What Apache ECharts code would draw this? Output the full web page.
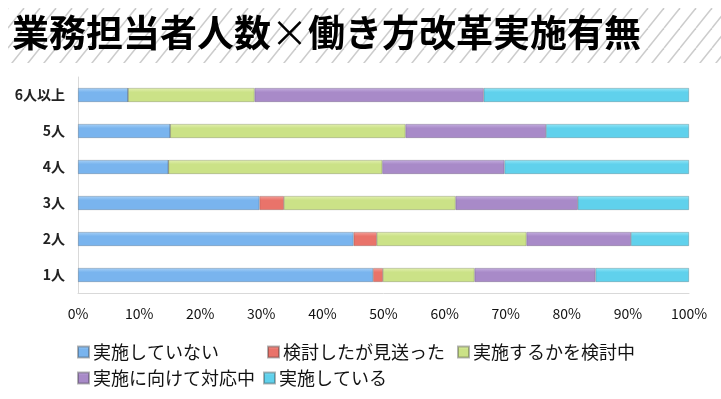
<!DOCTYPE html>
<html>
<head>
<meta charset="utf-8">
<script src="https://cdn.jsdelivr.net/npm/echarts@6/dist/echarts.min.js"></script>
<style>
  html, body { margin: 0; padding: 0; background: #fff; }
  #chart { width: 721px; height: 399px; }
</style>
</head>
<body>
<div id="chart"></div>
<script>
// カテゴリ（下から上）
const categories = ["1人", "2人", "3人", "4人", "5人", "6人以上"];
const xTicks = [0, 10, 20, 30, 40, 50, 60, 70, 80, 90, 100];

const notDone = [48.3, 45.1, 29.7, 14.8, 15.1, 8.2];      // 実施していない
const skipped = [1.6, 3.8, 4.0, 0, 0, 0];                 // 検討したが見送った
const considering = [15.0, 24.5, 28.1, 35.0, 38.5, 20.7]; // 実施するかを検討中
const preparing = [19.8, 17.1, 20.0, 20.0, 23.0, 37.5];   // 実施に向けて対応中
const done = [15.3, 9.5, 18.2, 30.2, 23.4, 33.6];         // 実施している

const seriesNames = ["実施していない", "検討したが見送った", "実施するかを検討中", "実施に向けて対応中", "実施している"];
const seriesData = [notDone, skipped, considering, preparing, done];
const colors = [
  ["#a6d0f7", "#79b4ee"],
  ["#f4a19a", "#e9736a"],
  ["#e2f0b0", "#cbe287"],
  ["#c4aee0", "#a88ac8"],
  ["#93e6f7", "#60d1ec"],
];

// タイトル背景の斜線パターン
function makeHatch() {
  const c = document.createElement("canvas");
  c.width = 16; c.height = 20;
  const ctx = c.getContext("2d");
  ctx.strokeStyle = "#cccccc";
  ctx.lineWidth = 1.5;
  for (const dx of [-16, 0, 16]) {
    ctx.beginPath();
    ctx.moveTo(dx, 20);
    ctx.lineTo(dx + 16, 0);
    ctx.stroke();
  }
  return c;
}

const chart = echarts.init(document.getElementById("chart"));

const legendPos = [
  { left: 72, top: 338 },
  { left: 262, top: 338 },
  { left: 452, top: 338 },
  { left: 72, top: 364 },
  { left: 258, top: 364 },
];

const option = {
  backgroundColor: "#fff",
  animation: false,
  graphic: [
    {
      type: "rect",
      left: 8, top: 8,
      shape: { width: 713, height: 55 },
      style: { fill: { image: makeHatch(), repeat: "repeat" } },
      silent: true,
    },
    {
      type: "text",
      left: 12, top: 14,
      style: {
        text: "{b|業務担当者人数}{x|×}{b|働き方改革実施有無}",
        rich: {
          b: { fill: "#000", fontSize: 37, fontWeight: "bold", fontFamily: "Noto Sans CJK JP" },
          x: { fill: "#000", fontSize: 37, fontWeight: "normal", fontFamily: "Noto Sans CJK JP" },
        },
      },
    },
  ],
  legend: seriesNames.map((n, i) => ({
    data: [n],
    left: legendPos[i].left,
    top: legendPos[i].top,
    itemWidth: 11,
    itemHeight: 11,
    icon: "rect",
    textStyle: { fontSize: 18, color: "#111", fontFamily: "Noto Sans CJK JP", padding: [0, 0, 0, -1] },
    selectedMode: false,
  })),
  grid: { left: 78, right: 32, top: 77, bottom: 106 },
  xAxis: {
    type: "value",
    min: 0, max: 100, interval: 10,
    axisLine: { show: true, lineStyle: { color: "#d9d9d9" } },
    axisTick: { show: false },
    splitLine: { show: false },
    axisLabel: {
      margin: 14,
      fontSize: 14,
      color: "#111",
      fontFamily: "Noto Sans CJK JP",
      formatter: (v) => (xTicks.includes(v) ? v + "%" : ""),
    },
  },
  yAxis: {
    type: "category",
    data: categories,
    axisLine: { show: true, lineStyle: { color: "#d9d9d9" } },
    axisTick: { show: false },
    axisLabel: { margin: 13, fontSize: 14, fontWeight: "bold", color: "#222", fontFamily: "Noto Sans CJK JP" },
  },
  series: seriesNames.map((n, i) => ({
    name: n,
    type: "bar",
    stack: "total",
    barWidth: 14,
    data: seriesData[i],
    itemStyle: {
      color: new echarts.graphic.LinearGradient(0, 0, 0, 1, [
        { offset: 0, color: colors[i][0] },
        { offset: 0.3, color: colors[i][1] },
        { offset: 1, color: colors[i][1] },
      ]),
      borderColor: "rgba(40,40,40,0.35)",
      borderWidth: 0.6,
    },
  })),
  color: colors.map((c) => c[1]),
};

chart.setOption(option);
</script>
</body>
</html>
